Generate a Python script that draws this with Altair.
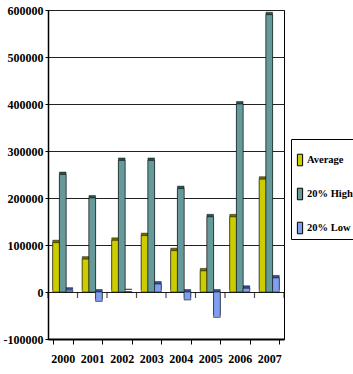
import altair as alt
import pandas as pd

# Yearly figures per series
years = ["2000", "2001", "2002", "2003", "2004", "2005", "2006", "2007"]
average = [105000, 70000, 110000, 120000, 88000, 45000, 160000, 240000]
high20 = [250000, 200000, 280000, 280000, 220000, 160000, 400000, 590000]
low20 = [4000, -20000, 1000, 17000, -17000, -54000, 8000, 30000]

series = ["Average", "20% High", "20% Low"]
face_colors = ["#CCCC00", "#669999", "#7F9FEF"]
side_colors = ["#6E6E00", "#2E5050", "#34508F"]
y_ticks = [-100000, 0, 100000, 200000, 300000, 400000, 500000, 600000]

rows = []
for i, yr in enumerate(years):
    for name, vals in zip(series, [average, high20, low20]):
        rows.append({"year": yr, "series": name, "value": vals[i]})
df = pd.DataFrame(rows)
year_df = pd.DataFrame({"year": years, "zero": [0] * len(years)})

FONT = "Liberation Serif"
STEP = 236 / 8  # width of one year band

x_scale = alt.Scale(paddingInner=0.32, paddingOuter=0.16)
x_enc = alt.X(
    "year:N",
    sort=years,
    scale=x_scale,
    axis=alt.Axis(
        title=None, labelAngle=0, labelFont=FONT, labelFontWeight="bold",
        labelFontSize=12, labelColor="black", labelPadding=9,
        tickBand="extent", tickSize=5, tickColor="black",
        domainColor="black", domainWidth=2,
    ),
)
xo_enc = alt.XOffset("series:N", sort=series,
                     scale=alt.Scale(paddingInner=0, paddingOuter=0))
y_enc = alt.Y(
    "value:Q",
    scale=alt.Scale(domain=[-100000, 600000], nice=False, zero=False),
    axis=alt.Axis(
        title=None, values=y_ticks, labelExpr="'' + datum.value",
        labelFont=FONT, labelFontWeight="bold", labelFontSize=12,
        labelColor="black", labelPadding=2, tickSize=3, tickColor="black",
        domainColor="black", domainWidth=1.5,
        grid=True, gridColor="#222222", gridWidth=1,
    ),
)

# darker faces giving the bars a little depth
side = alt.Chart(df).mark_bar(
    xOffset=2.5, yOffset=-2.5, stroke="black", strokeWidth=0.4
).encode(
    x=x_enc, xOffset=xo_enc, y=y_enc,
    color=alt.Color("series:N", sort=series,
                    scale=alt.Scale(domain=series, range=side_colors),
                    legend=None),
)

front = alt.Chart(df).mark_bar(stroke="black", strokeWidth=0.5).encode(
    x=x_enc, xOffset=xo_enc, y=y_enc,
    color=alt.Color(
        "series:N", sort=series,
        scale=alt.Scale(domain=series, range=face_colors),
        legend=alt.Legend(
            title=" ", titleFontSize=8, titlePadding=4,
            orient="none", legendX=243, legendY=129,
            labelFont=FONT, labelFontWeight="bold", labelFontSize=10.5,
            labelColor="black", labelOffset=1,
            symbolType="M-0.5,-1.1H0.5V1.1H-0.5Z", symbolSize=110,
            symbolStrokeColor="black", symbolStrokeWidth=1,
            rowPadding=18, padding=3,
            strokeColor="black", fillColor="white",
        ),
    ),
)

# small tick marks hanging below the zero line at each year boundary
zero_ticks = alt.Chart(year_df).mark_tick(
    orient="vertical", size=6, thickness=1.2, color="black",
    xOffset=-STEP / 2, yOffset=3,
).encode(x=alt.X("year:N", sort=years), y=alt.Y("zero:Q"))
zero_tick_end = alt.Chart(year_df.tail(1)).mark_tick(
    orient="vertical", size=6, thickness=1.2, color="black",
    xOffset=STEP / 2, yOffset=3,
).encode(x=alt.X("year:N", sort=years), y=alt.Y("zero:Q"))

chart = (
    alt.layer(side, front, zero_ticks, zero_tick_end)
    .resolve_scale(color="independent")
    .properties(
        width=236, height=329,
        autosize=alt.AutoSizeParams(type="none"),
        padding={"left": 48, "top": 10, "right": 69, "bottom": 35},
        background="white",
    )
    .configure_view(stroke="black", strokeWidth=1)
)

chart.save("out.html", embed_options={"renderer": "svg", "actions": False})
